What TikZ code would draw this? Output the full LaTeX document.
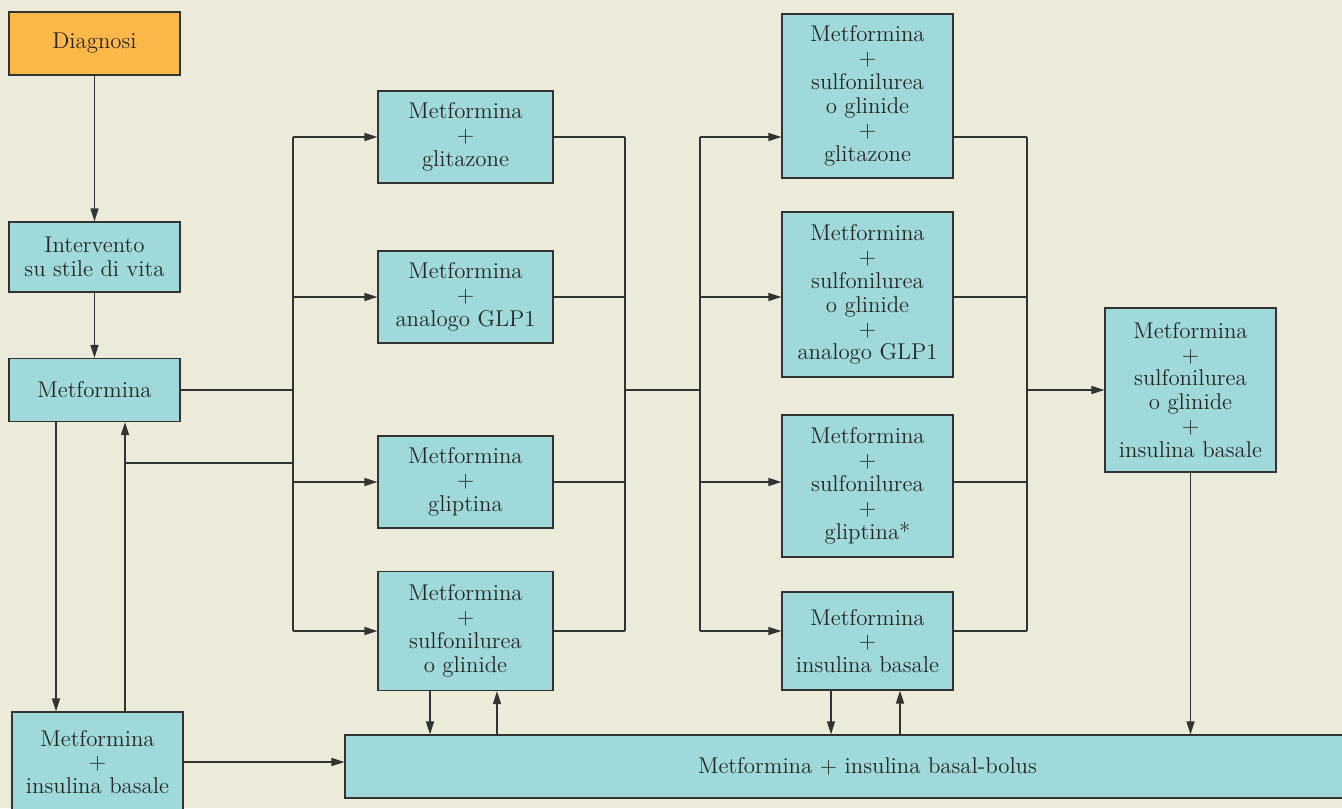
\documentclass[tikz,border=0pt]{standalone}
\usepackage{fontspec}
\usetikzlibrary{arrows.meta}
\definecolor{bgcol}{HTML}{ECEAD9}
\definecolor{boxcol}{HTML}{A0D9DA}
\definecolor{diagcol}{HTML}{FDB84A}
\definecolor{linecol}{HTML}{333333}
\begin{document}
\begin{tikzpicture}[x=0.02cm,y=-0.02cm,
  box/.style={draw=linecol,fill=boxcol,line width=0.7pt,align=center,inner sep=0pt,
    text=black!85,font=\fontsize{13}{13.6}\selectfont},
  link/.style={draw=linecol,line width=0.75pt},
  arr/.style={link,-{Triangle[length=2.6mm,width=1.6mm]}}]
\fill[bgcol] (0,0) rectangle (1342,808);
\useasboundingbox (0,0) rectangle (1342,808);
\clip (0,0) rectangle (1342,808);
% left column
\node[box,fill=diagcol,minimum width=3.42cm,minimum height=1.26cm] (diag) at (94.5,43.5) {Diagnosi};
\node[box,minimum width=3.42cm,minimum height=1.4cm] (vita) at (94.5,257) {Intervento\\su stile di vita};
\node[box,minimum width=3.42cm,minimum height=1.26cm] (met) at (94.5,390) {Metformina};
\node[box,minimum width=3.42cm,minimum height=2cm] (metins) at (97.5,762) {Metformina\\+\\insulina basale};
% second column
\node[box,minimum width=3.5cm,minimum height=1.84cm] (c2a) at (465.5,137) {Metformina\\+\\glitazone};
\node[box,minimum width=3.5cm,minimum height=1.84cm] (c2b) at (465.5,297) {Metformina\\+\\analogo GLP1};
\node[box,minimum width=3.5cm,minimum height=1.84cm] (c2c) at (465.5,482) {Metformina\\+\\gliptina};
\node[box,minimum width=3.5cm,minimum height=2.38cm] (c2d) at (465.5,631) {Metformina\\+\\sulfonilurea\\o glinide};
% third column
\node[box,minimum width=3.42cm,minimum height=3.28cm] (c3a) at (867.5,96) {Metformina\\+\\sulfonilurea\\o glinide\\+\\glitazone};
\node[box,minimum width=3.42cm,minimum height=3.3cm] (c3b) at (867.5,294.5) {Metformina\\+\\sulfonilurea\\o glinide\\+\\analogo GLP1};
\node[box,minimum width=3.42cm,minimum height=2.84cm] (c3c) at (867.5,486) {Metformina\\+\\sulfonilurea\\+\\gliptina*};
\node[box,minimum width=3.42cm,minimum height=1.96cm] (c3d) at (867.5,641) {Metformina\\+\\insulina basale};
% last steps
\node[box,minimum width=3.42cm,minimum height=3.28cm] (fin) at (1190.5,390) {Metformina\\+\\sulfonilurea\\o glinide\\+\\insulina basale};
\node[box,minimum width=20.9cm,minimum height=1.26cm] (bolus) at (867.5,766.5) {Metformina + insulina basal-bolus};
% bus lines
\coordinate (s1t) at (293,137); \coordinate (s1b) at (293,631);
\coordinate (k1t) at (625,137); \coordinate (k1b) at (625,631);
\coordinate (s2t) at (700,137); \coordinate (s2b) at (700,631);
\coordinate (k2t) at (1027,137); \coordinate (k2b) at (1027,631);
\coordinate (ret) at (125,463);
\draw[link] (s1t) -- (s1b);
\draw[link] (k1t) -- (k1b);
\draw[link] (s2t) -- (s2b);
\draw[link] (k2t) -- (k2b);
% connectors
\draw[arr] (diag) -- (vita);
\draw[arr] (vita) -- (met);
\draw[link] (met) -- (met -| s1t);
\draw[link] (ret) -- (ret -| s1t);
\draw[arr] ([xshift=-0.77cm]met.south) -- ([xshift=-0.77cm]met.south |- metins.north);
\draw[arr] (ret |- metins.north) -- (ret |- met.south);
\foreach \n in {c2a,c2b,c2c,c2d}{
  \draw[arr] (\n -| s1t) -- (\n);
  \draw[link] (\n) -- (\n -| k1t);
}
\draw[link] (met -| k1t) -- (met -| s2t);
\foreach \n/\m in {c2a/c3a,c2b/c3b,c2c/c3c,c2d/c3d}{
  \draw[arr] (\n -| s2t) -- (\n -| \m.west);
  \draw[link] (\n -| \m.east) -- (\n -| k2t);
}
\draw[arr] (met -| k2t) -- (fin);
\draw[arr] (fin) -- (fin |- bolus.north);
\draw[arr] (metins) -- (metins -| bolus.west);
\draw[arr] ([xshift=-0.71cm]c2d.south) -- ([xshift=-0.71cm]c2d.south |- bolus.north);
\draw[arr] ([xshift=0.63cm]c2d.south |- bolus.north) -- ([xshift=0.63cm]c2d.south);
\draw[arr] ([xshift=-0.73cm]c3d.south) -- ([xshift=-0.73cm]c3d.south |- bolus.north);
\draw[arr] ([xshift=0.65cm]c3d.south |- bolus.north) -- ([xshift=0.65cm]c3d.south);
\end{tikzpicture}
\end{document}
